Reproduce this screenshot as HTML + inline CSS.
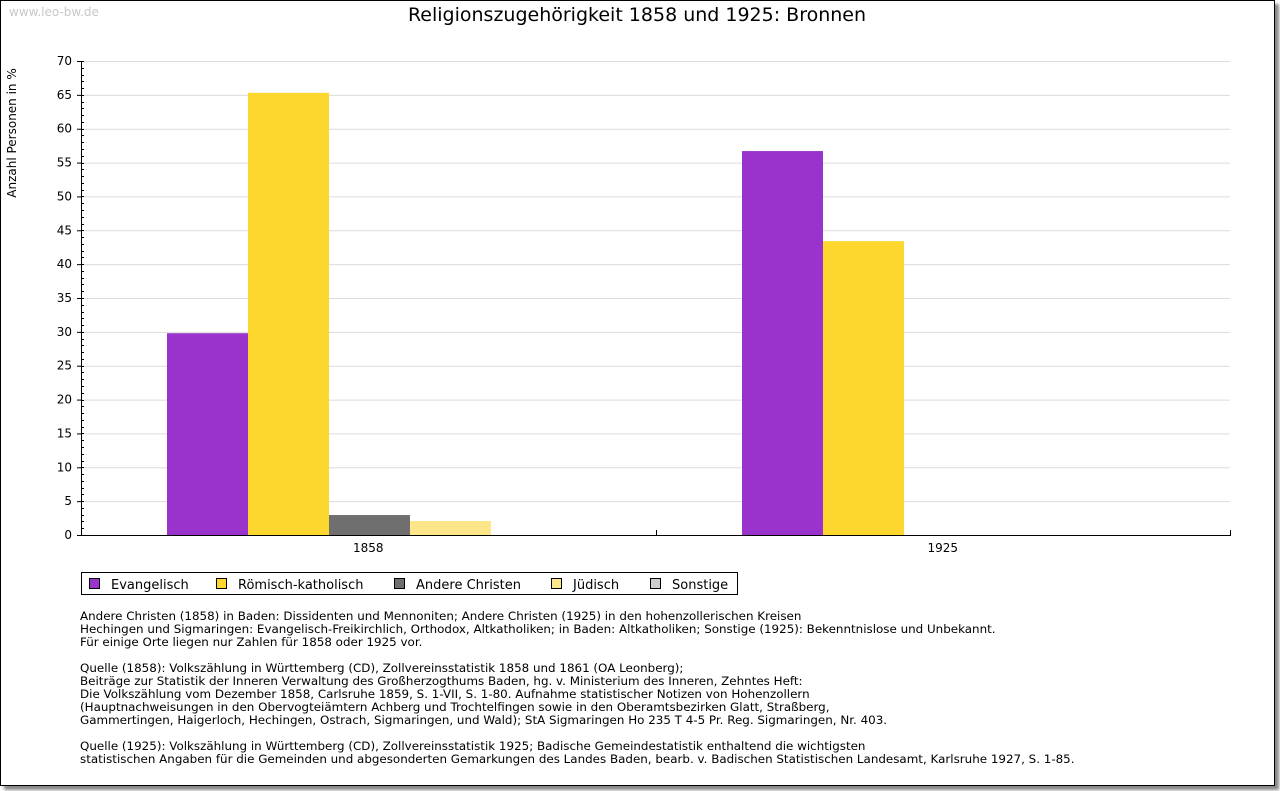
<!DOCTYPE html>
<html><head><meta charset="utf-8"><style>
body{margin:0;width:1280px;height:791px;background:#fff;font-family:"DejaVu Sans","Liberation Sans",sans-serif;overflow:hidden}
#frame{position:absolute;left:0;top:0;width:1273px;height:784px;border:1px solid #000;box-shadow:4px 4px 3px #888;background:#fff}
.notes{position:absolute;left:80px;font-size:11.9px;line-height:13px;color:#000;white-space:pre}
</style></head><body>
<div id="frame"></div>
<svg id="chart" width="1280" height="791" style="position:absolute;left:0;top:0">
<text x="9" y="16" font-size="12" fill="#c8c8c8">www.leo-bw.de</text>
<text x="637" y="21" font-size="19" text-anchor="middle" fill="#000">Religionszugehörigkeit 1858 und 1925: Bronnen</text>
<text transform="translate(16,133) rotate(-90)" font-size="12" text-anchor="middle">Anzahl Personen in %</text>
<g id="grid"></g><g id="bars"></g><g id="axes"></g>
<g>
<rect x="81.5" y="572.5" width="656" height="22" fill="#fff" stroke="#000"/>
<g id="legend"></g>
</g>
</svg>
<div class="notes" style="top:610px">Andere Christen (1858) in Baden: Dissidenten und Mennoniten; Andere Christen (1925) in den hohenzollerischen Kreisen
Hechingen und Sigmaringen: Evangelisch-Freikirchlich, Orthodox, Altkatholiken; in Baden: Altkatholiken; Sonstige (1925): Bekenntnislose und Unbekannt.
Für einige Orte liegen nur Zahlen für 1858 oder 1925 vor.</div>
<div class="notes" style="top:662px">Quelle (1858): Volkszählung in Württemberg (CD), Zollvereinsstatistik 1858 und 1861 (OA Leonberg);
Beiträge zur Statistik der Inneren Verwaltung des Großherzogthums Baden, hg. v. Ministerium des Inneren, Zehntes Heft:
Die Volkszählung vom Dezember 1858, Carlsruhe 1859, S. 1-VII, S. 1-80. Aufnahme statistischer Notizen von Hohenzollern
(Hauptnachweisungen in den Obervogteiämtern Achberg und Trochtelfingen sowie in den Oberamtsbezirken Glatt, Straßberg,
Gammertingen, Haigerloch, Hechingen, Ostrach, Sigmaringen, und Wald); StA Sigmaringen Ho 235 T 4-5 Pr. Reg. Sigmaringen, Nr. 403.</div>
<div class="notes" style="top:740px">Quelle (1925): Volkszählung in Württemberg (CD), Zollvereinsstatistik 1925; Badische Gemeindestatistik enthaltend die wichtigsten
statistischen Angaben für die Gemeinden und abgesonderten Gemarkungen des Landes Baden, bearb. v. Badischen Statistischen Landesamt, Karlsruhe 1927, S. 1-85.</div>
<script>
const categories=["1858","1925"];
const seriesNames=["Evangelisch","Römisch-katholisch","Andere Christen","Jüdisch","Sonstige"];
const seriesColors=["#9933cc","#fdd72e","#6f6f6f","#fde68a","#cccccc"];
const values1858=[29.8,65.3,2.95,2.07,0];
const values1925=[56.7,43.4,0,0,0];
const yTicks=[0,5,10,15,20,25,30,35,40,45,50,55,60,65,70];
const seriesValues=[values1858,values1925];
const NS="http://www.w3.org/2000/svg";
const X0=81,X1=1230,Y0=535,Y1=61,YMAX=70;
const y=v=>Y0-(Y0-Y1)*v/YMAX;
const catW=(X1-X0)/categories.length, barW=81;
const x=(c,s)=>Math.round(X0+catW*(c+0.5)-barW*seriesNames.length/2+barW*s+1.5);
function mk(t,a,p){const e=document.createElementNS(NS,t);for(const k in a)e.setAttribute(k,a[k]);p.appendChild(e);return e;}
const grid=document.getElementById('grid'),axes=document.getElementById('axes'),bars=document.getElementById('bars'),leg=document.getElementById('legend');
yTicks.forEach(t=>{
 if(t>0){const l=mk('line',{x1:X0,x2:X1,y1:y(t)+.5,y2:y(t)+.5,stroke:'#dcdcdc'},grid);
 
 }
 const tx=mk('text',{x:72,y:y(t)+4,'font-size':12,'text-anchor':'end'},axes);tx.textContent=t;
 
 
 mk('line',{x1:X0-4,x2:X0,y1:y(t)+.5,y2:y(t)+.5,stroke:'#000'},axes);
});
for(let v=0;v<=YMAX;v++){mk('line',{x1:X0,x2:X0+3,y1:Math.round(y(v))+.5,y2:Math.round(y(v))+.5,stroke:'#000'},axes);}
mk('line',{x1:X0+.5,x2:X0+.5,y1:Y1,y2:Y0,stroke:'#000'},axes);
mk('line',{x1:X0,x2:X1+1,y1:Y0+.5,y2:Y0+.5,stroke:'#000'},axes);
for(let c=0;c<=categories.length;c++){const xx=Math.round(X0+catW*c)+.5;mk('line',{x1:xx,x2:xx,y1:Y0-5,y2:Y0,stroke:'#000'},axes);}
categories.forEach((c,i)=>{const t=mk('text',{x:X0+catW*(i+.5),y:552,'font-size':12,'text-anchor':'middle'},axes);t.textContent=c;
 
 });
seriesValues.forEach((vals,c)=>vals.forEach((v,s)=>{if(v<=0)return;
 const r=mk('rect',{x:x(c,s),y:y(v),width:barW,height:Y0-y(v),fill:seriesColors[s]},bars);
 
 }));
const lx=[89,216,394,551,650];
seriesNames.forEach((n,i)=>{
 const r=mk('rect',{x:lx[i]+.5,y:578.5,width:10,height:10,fill:seriesColors[i],stroke:'#000'},leg);
 
 
 const t=mk('text',{x:lx[i]+22,y:589,'font-size':13},leg);t.textContent=n;
 
 
});
</script>
</body></html>
